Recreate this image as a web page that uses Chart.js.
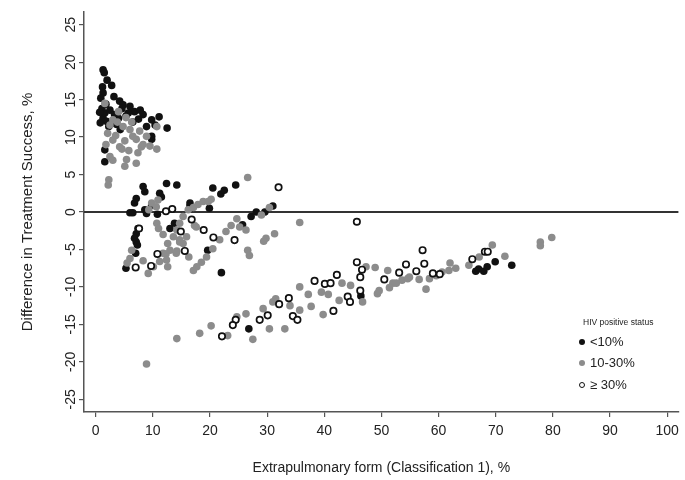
<!DOCTYPE html>
<html><head><meta charset="utf-8">
<script src="https://cdn.jsdelivr.net/npm/chart.js@4/dist/chart.umd.min.js"></script>
<style>
body{margin:0;background:#fff;}
#wrap{position:relative;width:685px;height:480px;}
.lg{position:absolute;font-family:"Liberation Sans",Arial,sans-serif;color:#222;white-space:nowrap;}
.mk{position:absolute;width:6px;height:6px;border-radius:50%;box-sizing:border-box;}
</style></head>
<body>
<div id="wrap">
<canvas id="c" width="685" height="480"></canvas>
<div class="lg" style="left:583px;top:317px;font-size:8.5px;">HIV positive status</div>
<div class="mk" style="left:579px;top:339px;background:#111;"></div>
<div class="lg" style="left:590px;top:334px;font-size:13px;">&lt;10%</div>
<div class="mk" style="left:579px;top:360px;background:#8c8c8c;"></div>
<div class="lg" style="left:590px;top:355px;font-size:13px;">10-30%</div>
<div class="mk" style="left:579px;top:382px;background:#fff;border:1.5px solid #111;"></div>
<div class="lg" style="left:590px;top:377px;font-size:13px;">≥ 30%</div>
</div>
<script>
const xTicks = [0,10,20,30,40,50,60,70,80,90,100];
const yTicks = [-25,-20,-15,-10,-5,0,5,10,15,20,25];
const xRange = [-2.04, 102];
const yRange = [-26.7, 26.7];
const seriesNames = ['<10%', '10-30%', '≥ 30%'];

const hivBelow10 = [
[1.3,19.0],[1.5,18.6],[2.0,17.6],[2.8,16.9],[1.2,16.7],[1.3,15.9],[0.9,15.2],[3.2,15.4],[4.2,14.8],[4.8,14.3],[6.0,14.1],[6.8,13.4],[8.3,13.0],[9.8,12.3],[10.4,11.6],[12.5,11.2],[9.8,10.1],[9.8,9.7],[1.3,12.5],[1.9,12.1],[1.6,13.2],[2.5,13.6],[3.3,13.0],[4.0,12.5],[4.6,13.8],[5.3,12.8],[2.3,11.4],[0.8,11.9],[1.1,13.8],[1.8,14.4],[2.9,12.0],[3.6,11.7],[5.7,13.2],[7.5,12.4],[6.5,12.0],[8.9,11.4],[11.1,12.7],[1.6,8.3],[1.6,6.7],[0.7,13.3],[7.8,13.6],[4.3,11.0],
[8.3,3.4],[8.6,2.7],[7.1,1.8],[6.8,1.2],[6.0,-0.1],[6.5,-0.1],[8.6,0.3],[8.9,-0.2],[9.8,0.9],[11.2,2.5],[11.5,2.0],[12.4,3.8],[14.2,3.6],[7.4,-2.2],[7.1,-2.9],[6.8,-3.5],[7.1,-4.0],[7.3,-4.4],[7.0,-5.5],[5.3,-7.5],[20.5,3.2],[21.9,2.4],[22.5,2.9],[24.5,3.6],[13.0,-2.2],[16.5,1.2],[16.5,0.8],[19.9,0.5],[19.6,-5.1],[22.0,-8.1],[27.2,-0.6],[25.7,-1.7],[28.1,0.0],[29.6,0.0],[31.0,0.8],[13.8,-1.5],[10.8,-0.3],
[26.8,-15.6],[46.4,-11.2],[66.5,-7.9],[67.0,-7.6],[67.9,-7.9],[68.5,-7.3],[69.9,-6.65],[72.8,-7.1]
];
const hiv10to30 = [
[1.6,14.5],[6.3,12.0],[3.0,12.3],[3.8,12.0],[2.5,11.6],[6.0,11.0],[4.8,11.4],[3.0,9.6],[4.2,8.7],[4.6,8.4],[2.5,7.4],[3.0,6.9],[5.4,7.0],[5.1,6.1],[7.1,6.5],[7.4,7.9],[8.0,8.7],[8.9,10.1],[10.7,8.4],[10.7,11.4],[6.5,10.1],[7.1,9.7],[2.3,4.3],[2.2,3.6],[2.1,10.5],[3.5,10.2],[5.1,9.5],[5.8,8.2],[7.7,10.8],[8.3,9.0],[9.5,8.8],[4.0,13.4],[1.8,9.0],[5.3,12.6],
[9.8,1.2],[10.6,0.7],[10.9,1.6],[9.3,0.3],[10.7,-1.5],[6.3,-5.1],[6.0,-6.2],[5.5,-6.8],[13.0,-5.1],[12.3,-5.6],[11.2,-6.6],[10.1,-7.3],[9.2,-8.2],[13.6,-3.3],[14.2,-2.4],[14.7,-1.5],[15.3,-0.6],[16.2,0.3],[17.1,0.6],[17.9,1.0],[18.8,1.4],[19.7,1.4],[20.2,1.7],[15.9,-3.3],[15.3,-4.2],[14.2,-5.2],[14.7,-3.7],[12.6,-4.2],[12.6,-7.3],[17.3,-1.8],[11.0,-2.2],[22.8,-2.6],[21.7,-3.7],[20.5,-4.9],[19.4,-6.0],[18.5,-6.7],[17.7,-7.3],[17.1,-7.8],[23.7,-1.8],[24.7,-0.9],[26.6,4.6],[30.4,0.6],[29.0,-0.4],[26.3,-2.4],[25.2,-2.0],[31.3,-2.9],[29.8,-3.5],[29.4,-3.9],[26.6,-5.1],[26.9,-5.8],[35.7,-1.4],[11.8,-3.0],[8.3,-6.5],[16.3,-6.0],[11.8,-5.5],[14.1,-5.5],[14.7,-4.0],[12.4,-6.4],[17.6,-2.0],
[8.9,-20.3],[14.2,-16.9],[18.2,-16.2],[23.1,-16.5],[27.5,-17.0],[30.4,-15.6],[33.1,-15.6],[26.3,-13.6],[29.3,-12.9],[31.0,-12.0],[31.5,-11.6],[35.7,-13.1],[37.7,-12.6],[39.8,-13.7],[35.7,-10.0],[39.5,-10.7],[40.7,-11.0],[42.6,-11.8],[43.1,-9.5],[47.3,-7.3],[48.9,-7.4],[51.1,-7.8],[52.0,-9.5],[53.6,-9.1],[54.9,-8.7],[49.3,-10.9],[46.7,-12.0],[57.8,-10.3],[51.4,-10.1],[52.6,-9.5],[54.6,-8.9],[58.4,-8.9],[60.6,-8.0],[63.0,-7.5],[65.3,-7.1],[67.1,-6.0],[69.4,-4.4],[71.6,-5.9],[77.8,-4.0],[77.8,-4.5],[79.8,-3.4],[56.6,-9.0],[59.6,-8.5],[61.8,-7.8],[49.6,-10.5],[20.2,-15.2],[24.7,-14.0],[34.0,-12.5],[37.2,-11.0],[44.6,-9.8],[62.0,-6.8]
];
const hivAbove30 = [
[13.4,0.4],[16.8,-1.0],[14.9,-2.6],[18.9,-2.4],[20.6,-3.4],[15.6,-5.2],[10.8,-5.6],[7.6,-2.2],[9.7,-7.2],[7.0,-7.4],[32.0,3.3],[24.3,-3.75],[45.7,-1.3],[45.7,-6.7],[46.6,-7.7],[46.3,-8.7],[42.2,-8.4],[38.3,-9.2],[40.1,-9.6],[41.1,-9.5],[33.8,-11.5],[32.1,-12.3],[30.1,-13.8],[28.7,-14.4],[24.5,-14.4],[24.0,-15.1],[22.1,-16.6],[34.5,-13.9],[35.3,-14.4],[41.6,-13.2],[44.1,-11.3],[44.5,-12.0],[46.3,-10.5],[50.5,-9.0],[53.1,-8.1],[54.3,-7.0],[56.1,-7.9],[57.2,-5.1],[57.5,-6.9],[59.0,-8.2],[60.2,-8.3],[65.9,-6.3],[68.1,-5.3],[68.6,-5.3],[12.3,0.1]
];

const toXY = arr => arr.map(p => ({x: p[0], y: p[1]}));
const FONT = '"Liberation Sans", Arial, sans-serif';

new Chart(document.getElementById('c'), {
  type: 'scatter',
  data: {
    datasets: [
      {type:'line', label:'zero', data:[{x:xRange[0],y:0},{x:xRange[1],y:0}], borderColor:'#333', borderWidth:2, pointRadius:0, order:10},
      {label:seriesNames[0], data:toXY(hivBelow10), backgroundColor:'#111', borderColor:'#111', borderWidth:0, pointRadius:3.8, order:3},
      {label:seriesNames[1], data:toXY(hiv10to30), backgroundColor:'#8c8c8c', borderColor:'#8c8c8c', borderWidth:0, pointRadius:3.8, order:2},
      {label:seriesNames[2], data:toXY(hivAbove30), backgroundColor:'#fff', borderColor:'#111', borderWidth:1.7, pointRadius:3.2, order:1}
    ]
  },
  options: {
    responsive:false, animation:false,
    layout:{padding:{left:0,top:12,right:5,bottom:0}},
    plugins:{legend:{display:false}, tooltip:{enabled:false}},
    scales:{
      x:{
        type:'linear', min:xRange[0], max:xRange[1],
        afterBuildTicks: s => { s.ticks = xTicks.map(v => ({value:v})); },
        afterFit: s => { s.height = 68; },
        grid:{drawOnChartArea:false, drawTicks:true, tickLength:5, color:'#555', lineWidth:1.2},
        border:{display:true, color:'#555', width:1.5},
        ticks:{color:'#222', font:{family:FONT, size:14}, padding:6, maxRotation:0, autoSkip:false},
        title:{display:true, text:'Extrapulmonary form (Classification 1), %', color:'#222', font:{family:FONT, size:14}, padding:{top:0,bottom:3}}
      },
      y:{
        type:'linear', min:yRange[0], max:yRange[1],
        afterBuildTicks: s => { s.ticks = yTicks.map(v => ({value:v})); },
        afterFit: s => { s.width = 84; },
        grid:{drawOnChartArea:false, drawTicks:true, tickLength:5, color:'#555', lineWidth:1.2},
        border:{display:true, color:'#555', width:1.5},
        ticks:{color:'#222', font:{family:FONT, size:14}, padding:-2, minRotation:90, maxRotation:90, crossAlign:'center', autoSkip:false},
        title:{display:true, text:'Difference in Treatment Success, %', color:'#222', font:{family:FONT, size:15}, padding:{top:19,bottom:0}}
      }
    }
  }
});
</script>
</body></html>
